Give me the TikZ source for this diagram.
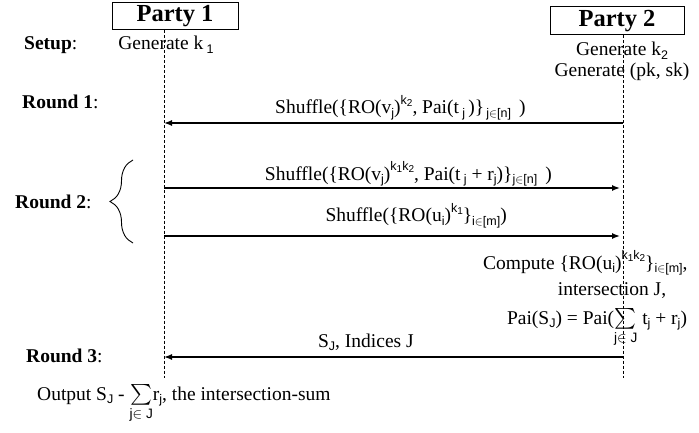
\documentclass[tikz,border=0pt]{standalone}
\usepackage{amsmath}
\usepackage{fontspec}
\setmainfont{Liberation Serif}
\newfontfamily\subfont{Liberation Sans}
\usetikzlibrary{positioning, arrows.meta, decorations.pathreplacing}

% small sans indices, lowered and raised
\newcommand{\lo}[2][12.5]{\raisebox{-0.35ex}{\subfont\fontsize{#1}{#1}\selectfont #2}}
\newcommand{\hi}[2][12.5]{\raisebox{1.05ex}{\subfont\fontsize{#1}{#1}\selectfont #2}}
\newcommand{\sumJ}{\ensuremath{\sum\limits_{\text{\subfont j$\in$ J}}}}

\begin{document}
\begin{tikzpicture}[x=1pt, y=-1pt, font=\fontsize{19.5}{23}\selectfont,
    party/.style={draw, line width=1pt, inner sep=0pt, font=\fontsize{24.5}{25}\selectfont\bfseries},
    txt/.style={anchor=base, inner sep=0pt},
    lefttxt/.style={anchor=base west, inner sep=0pt},
    life/.style={line width=0.8pt, dash pattern=on 3pt off 2pt},
    msg/.style={line width=1.4pt, -{Latex[length=8pt, width=6pt]}}]

    \useasboundingbox (0,0) rectangle (699,433);

    % Parteien und Lebenslinien
    \node[party, minimum width=126pt, minimum height=27pt] (p1) at (175,16.5) {Party 1};
    \node[party, minimum width=134pt, minimum height=28pt] (p2) at (617,21) {Party 2};
    \coordinate (x1) at (164,0);
    \coordinate (x2) at (623,0);
    \coordinate (top1) at (p1.south -| x1);
    \coordinate (top2) at (p2.south -| x2);
    \coordinate (end1) at (164,378);
    \coordinate (end2) at (623,378);
    \draw[life] (top1) -- (end1);
    \draw[life] (top2) -- (end2);

    % Setup
    \node[lefttxt] (setup) at (24,50) {\textbf{Setup}:};
    \node[txt] (gen1) at (166,50) {Generate k\,\lo{1}};
    \node[txt] (gen2) at (622,56) {Generate k\lo{2}};
    \node[txt] (genpk) at (622,77) {Generate (pk, sk)};

    % Runden
    \node[lefttxt] (round1) at (22,109) {\textbf{Round 1}:};
    \node[lefttxt] (round2) at (15,208) {\textbf{Round 2}:};
    \node[lefttxt] (round3) at (26,362) {\textbf{Round 3}:};
    \coordinate (bb) at (133,243);
    \coordinate (bt) at (133,160);
    \draw[decorate, decoration={brace, amplitude=23pt}, line width=0.9pt] (bb) -- (bt);

    % Nachrichten
    \coordinate (r1a) at (164,123);
    \coordinate (r1b) at (623,123);
    \coordinate (r2a) at (164,188);
    \coordinate (r2b) at (620,188);
    \coordinate (r3a) at (164,236);
    \coordinate (r3b) at (620,236);
    \coordinate (r4a) at (164,357);
    \coordinate (r4b) at (623,357);
    \path[msg]
    (r1b) edge node[txt, pos=0.485, yshift=9pt]
        {Shuffle(\{RO(v\lo{j})\hi{k\lo[10]{2}}, Pai(t\,\lo{j}\,)\}\lo{\,j$\in$[n]}\ \,)} (r1a)
    (r2a) edge node[txt, pos=0.536, yshift=8pt]
        {Shuffle(\{RO(v\lo{j})\hi{k\lo[10]{1}k\lo[10]{2}}, Pai(t\,\lo{j} + r\lo{j})\}\lo{j$\in$[n]}\ \,)} (r2b)
    (r3a) edge node[txt, pos=0.553, yshift=14pt]
        {Shuffle(\{RO(u\lo{i})\hi{k\lo[10]{1}}\}\lo{i$\in$[m]})} (r3b)
    (r4b) edge node[txt, pos=0.56, yshift=10pt] {S\lo{J}, Indices J} (r4a);

    % Berechnung bei Party 2
    \node[lefttxt] (cmp1) at (483,269) {Compute \{RO(u\lo{i})\hi{k\lo[10]{1}k\lo[10]{2}}\}\lo{i$\in$[m]},};
    \node[txt] (cmp2) at (612,295) {intersection J,};
    \node[txt] (cmp3) at (597,324) {Pai(S\lo{J}) = Pai(\sumJ\ t\lo{j} + r\lo{j})};

    % Ausgabe
    \node[lefttxt] (out) at (37,400) {Output S\lo{J} - \sumJ r\lo{j}, the intersection-sum};
\end{tikzpicture}
\end{document}
